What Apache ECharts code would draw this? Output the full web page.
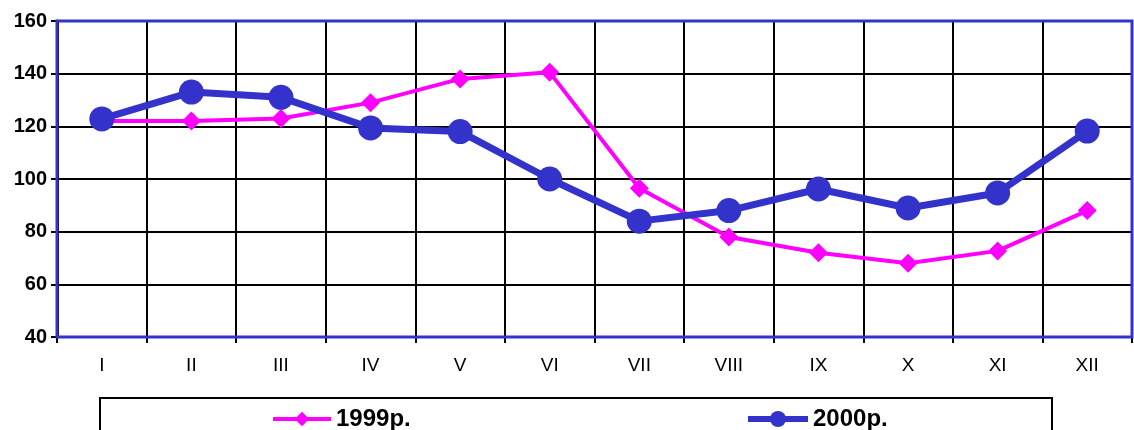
<!DOCTYPE html>
<html>
<head>
<meta charset="utf-8">
<script src="https://cdn.jsdelivr.net/npm/echarts@6/dist/echarts.min.js"></script>
<style>
  html, body { margin: 0; padding: 0; background: #fff; }
  #chart { width: 1134px; height: 430px; }
</style>
</head>
<body>
<div id="chart"></div>
<script>
const months = ['I', 'II', 'III', 'IV', 'V', 'VI', 'VII', 'VIII', 'IX', 'X', 'XI', 'XII']
const data1999 = [122, 122, 123, 129, 138, 140.5, 96.5, 78, 72, 68, 72.7, 88]
const data2000 = [122.8, 133, 131, 119.4, 118, 100, 84, 88, 96.2, 89, 94.7, 118.2]
const yTicks = { min: 40, max: 160, interval: 20 }

const myChart = echarts.init(document.getElementById('chart'))

const legendText = {
  fontFamily: 'Liberation Sans',
  fontWeight: 'bold',
  fontSize: 24,
  color: '#000'
}

const option = {
  animation: false,
  grid: {
    left: 57,
    right: 2,
    top: 21,
    bottom: 93,
    show: true,
    borderColor: '#3333cc',
    borderWidth: 3,
    z: 2
  },
  graphic: [
    {
      type: 'rect',
      shape: { x: 100, y: 398, width: 952, height: 40 },
      style: { fill: '#fff', stroke: '#000', lineWidth: 2 },
      z: 0
    }
  ],
  legend: [
    {
      data: ['1999р.'],
      left: 266,
      top: 402,
      itemWidth: 58,
      itemHeight: 18,
      itemGap: 6,
      lineStyle: { width: 4 },
      textStyle: legendText
    },
    {
      data: ['2000р.'],
      left: 740,
      top: 402,
      itemWidth: 60,
      itemHeight: 20,
      itemGap: 4,
      lineStyle: { width: 6 },
      textStyle: legendText
    }
  ],
  xAxis: {
    type: 'category',
    data: months,
    boundaryGap: true,
    axisLine: { lineStyle: { color: '#000', width: 2 } },
    axisTick: { show: true, length: 6, lineStyle: { color: '#000', width: 2 } },
    axisLabel: {
      margin: 19,
      fontFamily: 'Liberation Sans',
      fontSize: 19,
      color: '#000'
    },
    splitLine: { show: true, lineStyle: { color: '#000', width: 2 } }
  },
  yAxis: {
    type: 'value',
    min: yTicks.min,
    max: yTicks.max,
    interval: yTicks.interval,
    axisLine: { show: true, lineStyle: { color: '#000', width: 3 } },
    axisTick: { show: true, length: 6, lineStyle: { color: '#000', width: 2 } },
    axisLabel: {
      margin: 10,
      fontFamily: 'Liberation Sans',
      fontWeight: 'bold',
      fontSize: 20,
      color: '#000'
    },
    splitLine: { show: true, lineStyle: { color: '#000', width: 2 } }
  },
  series: [
    {
      name: '1999р.',
      type: 'line',
      data: data1999,
      symbol: 'diamond',
      symbolSize: 19,
      color: '#ff00ff',
      lineStyle: { width: 4, color: '#ff00ff' },
      itemStyle: { color: '#ff00ff' },
      z: 3
    },
    {
      name: '2000р.',
      type: 'line',
      data: data2000,
      symbol: 'circle',
      symbolSize: 25,
      color: '#3333cc',
      lineStyle: { width: 7, color: '#3333cc' },
      itemStyle: { color: '#3333cc' },
      z: 4
    }
  ]
}

option && myChart.setOption(option)
</script>
</body>
</html>
